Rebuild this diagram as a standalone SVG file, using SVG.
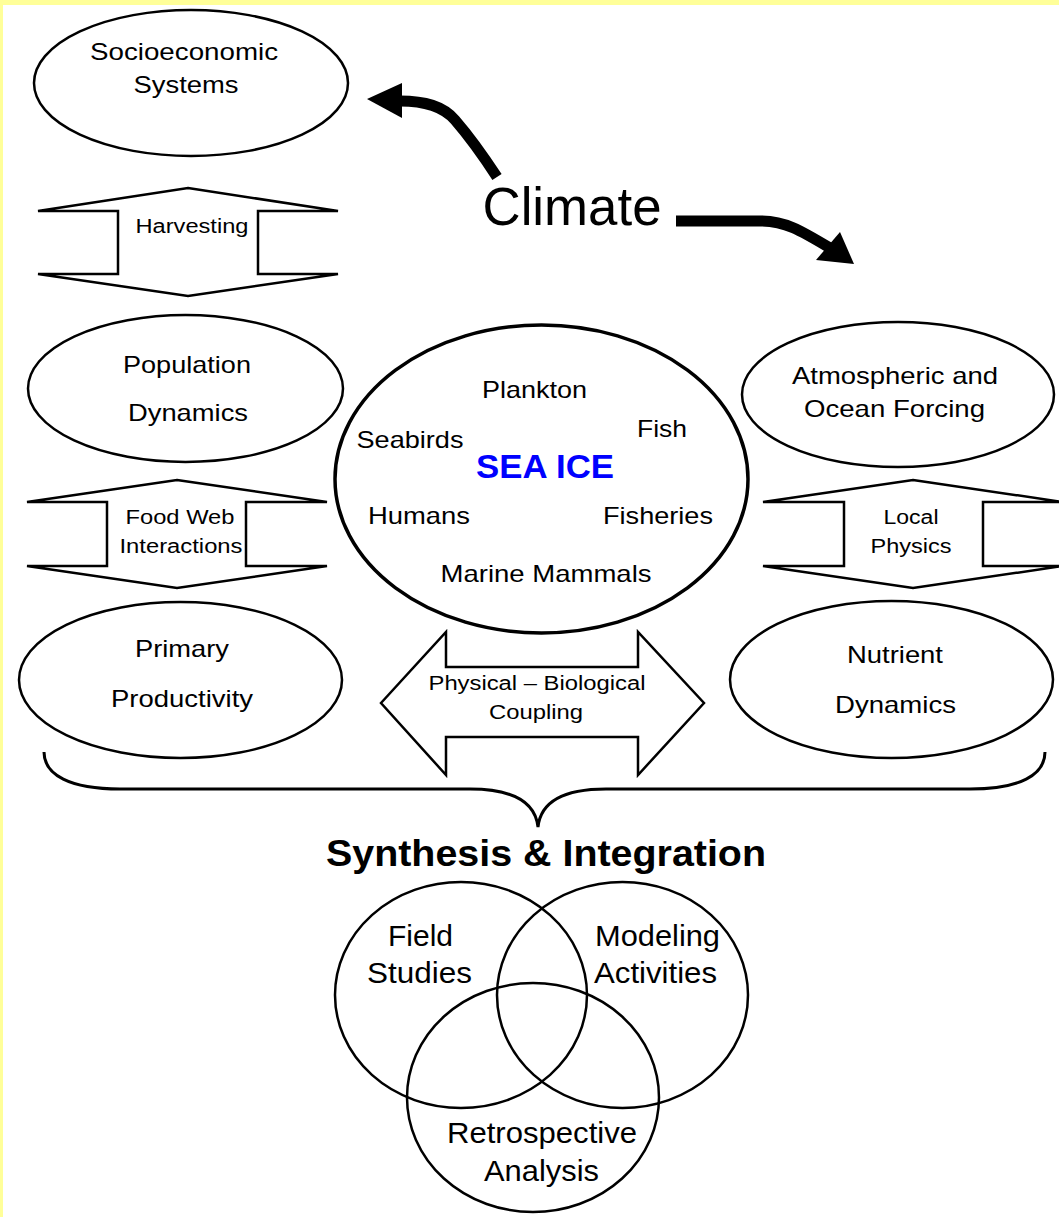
<svg xmlns="http://www.w3.org/2000/svg" width="1059" height="1217" viewBox="0 0 1059 1217">
<style>
.t{font-family:"Liberation Sans",Arial,sans-serif;fill:#000;text-anchor:middle}
.n{fill:#fff;stroke:#000;stroke-width:2.5}
.ba{fill:#fff;stroke:#000;stroke-width:2.5;stroke-linejoin:miter}
.thick{fill:none;stroke:#000;stroke-width:11}
</style>
<rect x="0" y="0" width="1059" height="1217" fill="#fff"/>
<rect x="0" y="0" width="1059" height="5" fill="#ffff99"/>
<rect x="0" y="0" width="3" height="1217" fill="#ffff99"/>

<g id="connectors">
  <path class="thick" d="M497,177 C482,154 468,135 455,120 C443,106 425,101 400,101"/>
  <polygon points="367,99 402,83 402,118" fill="#000"/>
  <path class="thick" d="M676,221 L760,221 C785,221 800,230 830,248"/>
  <polygon points="854,264 840,232 816,260" fill="#000"/>
  <g id="harvesting">
    <polygon class="ba" points="188,188 338,211 258,211 258,274 338,274 188,296 38,274 118,274 118,211 38,211"/>
    <text class="t" x="192" y="233" font-size="20" textLength="113" lengthAdjust="spacingAndGlyphs">Harvesting</text>
  </g>
  <g id="foodweb">
    <polygon class="ba" points="177,480 327,502 246,502 246,566 327,566 177,588 27,566 107,566 107,502 27,502"/>
    <text class="t" x="180" y="524" font-size="20" textLength="109" lengthAdjust="spacingAndGlyphs">Food Web</text>
    <text class="t" x="181" y="553" font-size="20" textLength="123" lengthAdjust="spacingAndGlyphs">Interactions</text>
  </g>
  <g id="localphysics">
    <polygon class="ba" points="913,480 1063,502 983,502 983,566 1063,566 913,588 763,566 844,566 844,502 763,502"/>
    <text class="t" x="911" y="524" font-size="20" textLength="55" lengthAdjust="spacingAndGlyphs">Local</text>
    <text class="t" x="911" y="553" font-size="20" textLength="81" lengthAdjust="spacingAndGlyphs">Physics</text>
  </g>
  <g id="coupling">
    <polygon class="ba" points="381,703 446,632 446,667 638,667 638,632 704,703 638,775 638,737 446,737 446,775"/>
    <text class="t" x="537" y="690" font-size="20" textLength="217" lengthAdjust="spacingAndGlyphs">Physical – Biological</text>
    <text class="t" x="536" y="719" font-size="20" textLength="94" lengthAdjust="spacingAndGlyphs">Coupling</text>
  </g>
  <path id="brace" d="M44,752 C44,775 70,789 120,789 L470,789 C510,789 535,800 538,827 C541,800 566,789 606,789 L970,789 C1020,789 1045,775 1045,752" fill="none" stroke="#000" stroke-width="3"/>
</g>

<g id="climate">
  <text class="t" x="572" y="225" font-size="54" textLength="179" lengthAdjust="spacingAndGlyphs">Climate</text>
</g>

<g id="socioeconomic">
  <ellipse class="n" cx="191" cy="83" rx="157" ry="73"/>
  <text class="t" x="184" y="60" font-size="24" textLength="188" lengthAdjust="spacingAndGlyphs">Socioeconomic</text>
  <text class="t" x="186" y="93" font-size="24" textLength="105" lengthAdjust="spacingAndGlyphs">Systems</text>
</g>

<g id="population">
  <ellipse class="n" cx="185.5" cy="388.5" rx="157.5" ry="73.5"/>
  <text class="t" x="187" y="373" font-size="24" textLength="128" lengthAdjust="spacingAndGlyphs">Population</text>
  <text class="t" x="188" y="421" font-size="24" textLength="120" lengthAdjust="spacingAndGlyphs">Dynamics</text>
</g>

<g id="primary">
  <ellipse class="n" cx="180.5" cy="680" rx="161.5" ry="78"/>
  <text class="t" x="182" y="657" font-size="24" textLength="94" lengthAdjust="spacingAndGlyphs">Primary</text>
  <text class="t" x="182" y="707" font-size="24" textLength="142" lengthAdjust="spacingAndGlyphs">Productivity</text>
</g>

<g id="seaice">
  <ellipse cx="541.5" cy="479" rx="206.5" ry="154" fill="#fff" stroke="#000" stroke-width="3.5"/>
  <text class="t" x="534.5" y="398" font-size="24" textLength="105" lengthAdjust="spacingAndGlyphs">Plankton</text>
  <text class="t" x="662" y="437" font-size="24" textLength="50" lengthAdjust="spacingAndGlyphs">Fish</text>
  <text class="t" x="410" y="448" font-size="24" textLength="107" lengthAdjust="spacingAndGlyphs">Seabirds</text>
  <text class="t" x="545" y="478" font-size="33" font-weight="bold" fill="#0000ff" style="fill:#0000ff" textLength="138" lengthAdjust="spacingAndGlyphs">SEA ICE</text>
  <text class="t" x="419" y="524" font-size="24" textLength="102" lengthAdjust="spacingAndGlyphs">Humans</text>
  <text class="t" x="658" y="524" font-size="24" textLength="110" lengthAdjust="spacingAndGlyphs">Fisheries</text>
  <text class="t" x="546" y="582" font-size="24" textLength="211" lengthAdjust="spacingAndGlyphs">Marine Mammals</text>
</g>

<g id="atmospheric">
  <ellipse class="n" cx="898" cy="394.5" rx="156" ry="72.5"/>
  <text class="t" x="895" y="384" font-size="24" textLength="206" lengthAdjust="spacingAndGlyphs">Atmospheric and</text>
  <text class="t" x="894.5" y="417" font-size="24" textLength="181" lengthAdjust="spacingAndGlyphs">Ocean Forcing</text>
</g>

<g id="nutrient">
  <ellipse class="n" cx="891.5" cy="679.5" rx="161.5" ry="78.5"/>
  <text class="t" x="895" y="663" font-size="24" textLength="96" lengthAdjust="spacingAndGlyphs">Nutrient</text>
  <text class="t" x="895.5" y="713" font-size="24" textLength="121" lengthAdjust="spacingAndGlyphs">Dynamics</text>
</g>

<g id="synthesis">
  <text class="t" x="546" y="866" font-size="36" font-weight="bold" textLength="440" lengthAdjust="spacingAndGlyphs">Synthesis &amp; Integration</text>
</g>

<g id="venn" fill="none" stroke="#000" stroke-width="2.5">
  <ellipse id="field" cx="461" cy="995" rx="126" ry="113"/>
  <ellipse id="modeling" cx="622.5" cy="995" rx="125.5" ry="113"/>
  <ellipse id="retro" cx="533" cy="1097.5" rx="126" ry="114.5"/>
</g>
<g id="venn-labels">
  <text class="t" x="420.5" y="946" font-size="29" textLength="65" lengthAdjust="spacingAndGlyphs">Field</text>
  <text class="t" x="419.5" y="983" font-size="29" textLength="105" lengthAdjust="spacingAndGlyphs">Studies</text>
  <text class="t" x="657.5" y="946" font-size="29" textLength="125" lengthAdjust="spacingAndGlyphs">Modeling</text>
  <text class="t" x="655.5" y="983" font-size="29" textLength="123" lengthAdjust="spacingAndGlyphs">Activities</text>
  <text class="t" x="542" y="1143" font-size="29" textLength="190" lengthAdjust="spacingAndGlyphs">Retrospective</text>
  <text class="t" x="541.5" y="1181" font-size="29" textLength="115" lengthAdjust="spacingAndGlyphs">Analysis</text>
</g>
</svg>
